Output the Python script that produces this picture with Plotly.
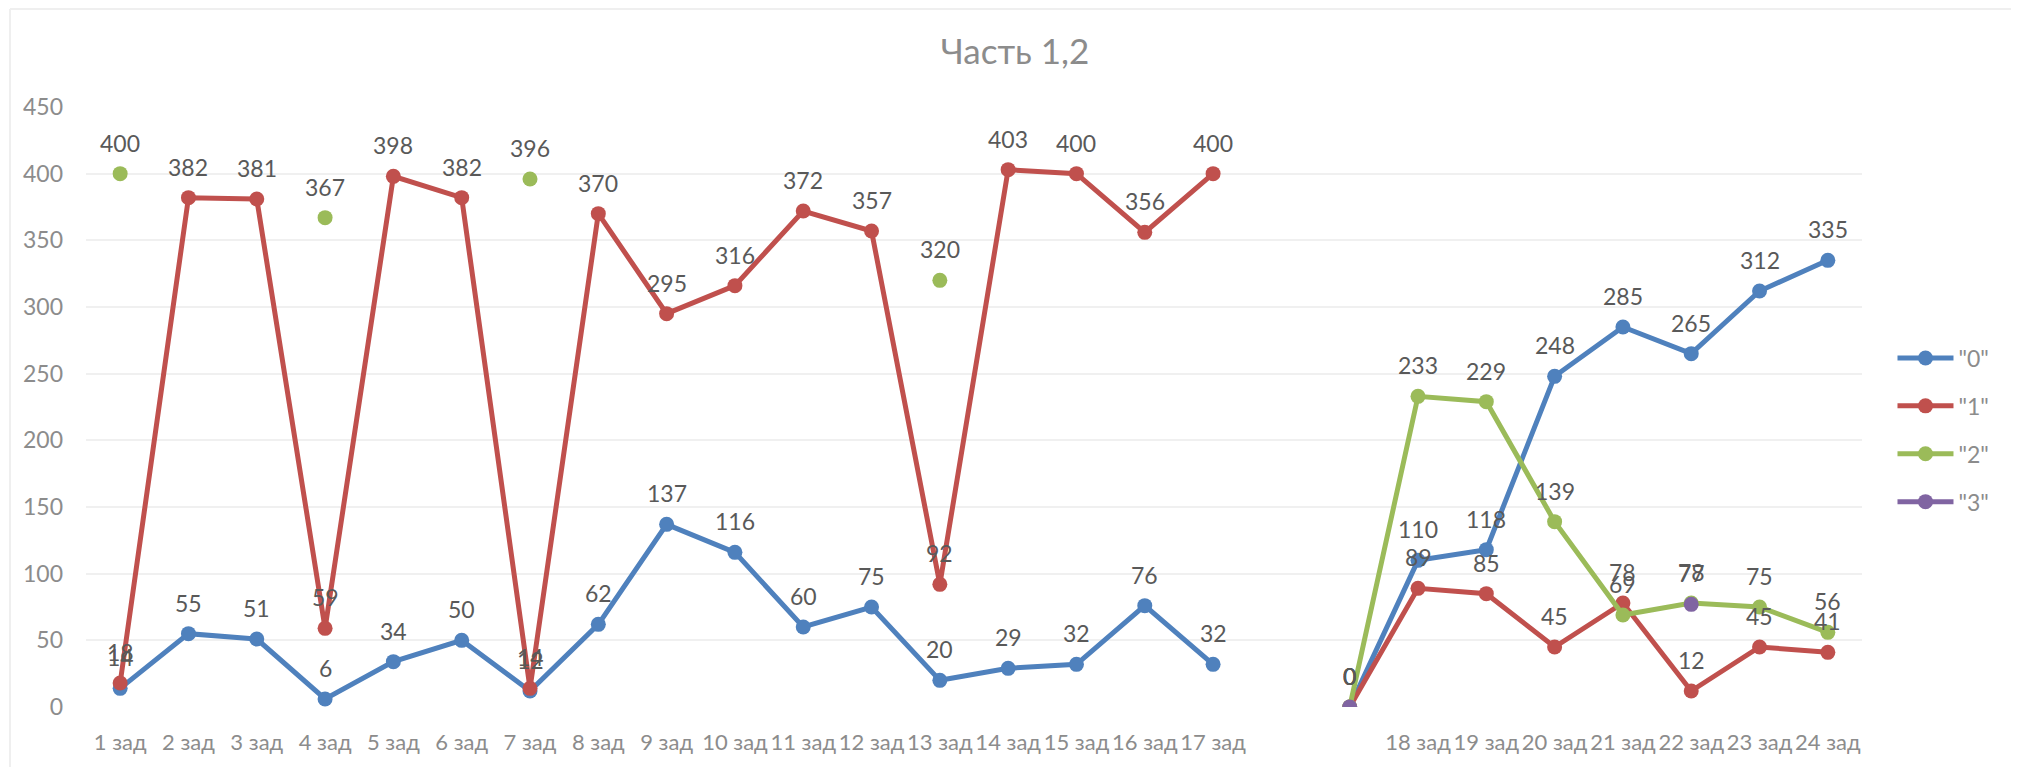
import plotly.graph_objects as go

categories = ["1 зад", "2 зад", "3 зад", "4 зад", "5 зад", "6 зад", "7 зад", "8 зад", "9 зад",
              "10 зад", "11 зад", "12 зад", "13 зад", "14 зад", "15 зад", "16 зад", "17 зад",
              "", "", "18 зад", "19 зад", "20 зад", "21 зад", "22 зад", "23 зад", "24 зад"]

s0 = [14, 55, 51, 6, 34, 50, 12, 62, 137, 116, 60, 75, 20, 29, 32, 76, 32,
      None, 0, 110, 118, 248, 285, 265, 312, 335]
s1 = [18, 382, 381, 59, 398, 382, 14, 370, 295, 316, 372, 357, 92, 403, 400, 356, 400,
      None, 0, 89, 85, 45, 78, 12, 45, 41]
s2 = [400, None, None, 367, None, None, 396, None, None, None, None, None, 320, None, None, None, None,
      None, 0, 233, 229, 139, 69, 78, 75, 56]
s3 = [None, None, None, None, None, None, None, None, None, None, None, None, None, None, None, None, None,
      None, 0, None, None, None, None, 77, None, None]

series_names = ['"0"', '"1"', '"2"', '"3"']
series_values = [s0, s1, s2, s3]
colors = ["#4F81BD", "#C0504D", "#9BBB59", "#8064A2"]

x = list(range(len(categories)))
tick_idx = [i for i, c in enumerate(categories) if c]
tick_txt = [categories[i] for i in tick_idx]

FONT = "Lato, Carlito, 'Open Sans', sans-serif"

fig = go.Figure()
annotations = []
for name, vals, col in zip(series_names, series_values, colors):
    fig.add_trace(go.Scatter(
        x=x, y=vals, name=name, mode="lines+markers",
        line=dict(color=col, width=5),
        marker=dict(color=col, size=15),
        connectgaps=False,
        legendgroup=name,
    ))
    for xi, v in zip(x, vals):
        if v is None:
            continue
        annotations.append(dict(
            x=xi, y=v, xref="x", yref="y", text=str(v), showarrow=False,
            yshift=31, font=dict(family=FONT, size=23, color="#595959"),
            xanchor="center", yanchor="middle",
        ))

# the page body adds an 8px offset, so the figure is 8px smaller and shifted
OFF = 8
W, H = 2019 - OFF, 767 - OFF
PL, PR, PT, PB = 86 - OFF, 1862.5 - OFF, 107 - OFF, 707 - OFF
PW, PH = PR - PL, PB - PT

fig.update_layout(
    width=W, height=H, autosize=False,
    margin=dict(l=PL, r=W - PR, t=PT, b=H - PB, pad=0),
    paper_bgcolor="white", plot_bgcolor="white",
    font=dict(family=FONT, size=23, color="#8C8C8C"),
    title=dict(text="Часть 1,2", x=(1015 - OFF) / W, xref="container", xanchor="center",
               y=1 - (52 - OFF) / H, yref="container", yanchor="middle",
               font=dict(family=FONT, size=35, color="#8C8C8C")),
    xaxis=dict(range=[-0.5, len(categories) - 0.5], tickmode="array",
               tickvals=tick_idx, ticktext=tick_txt, showgrid=False, zeroline=False,
               showline=False, ticks="", ticklabelstandoff=20, tickangle=0,
               automargin=False,
               tickfont=dict(family=FONT, size=22, color="#8C8C8C")),
    yaxis=dict(range=[0, 450], dtick=50, tick0=0, showgrid=True, gridcolor="#F0F0F0",
               gridwidth=1.5, zeroline=False, showline=False, ticks="",
               ticklabelstandoff=22, automargin=False,
               tickfont=dict(family=FONT, size=23, color="#8C8C8C")),
    legend=dict(x=(1893 - OFF - PL) / PW, xanchor="left",
                y=(PB - (430 - OFF)) / PH, yanchor="middle",
                font=dict(family=FONT, size=23, color="#8C8C8C"), itemwidth=56,
                tracegroupgap=15, bgcolor="rgba(0,0,0,0)", itemclick=False),
    annotations=annotations,
    showlegend=True,
)

# faint chart-area border (left and top edges visible in the reference)
bx, by = 10 - OFF, 9 - OFF
fig.add_shape(type="line", xref="paper", yref="paper",
              x0=(bx - PL) / PW, x1=(bx - PL) / PW,
              y0=(PB - H) / PH, y1=(PB - by) / PH,
              line=dict(color="#EFEFEF", width=2), layer="below")
fig.add_shape(type="line", xref="paper", yref="paper",
              x0=(bx - PL) / PW, x1=(W - PL) / PW,
              y0=(PB - by) / PH, y1=(PB - by) / PH,
              line=dict(color="#EFEFEF", width=2), layer="below")

fig.write_html("out.html")
